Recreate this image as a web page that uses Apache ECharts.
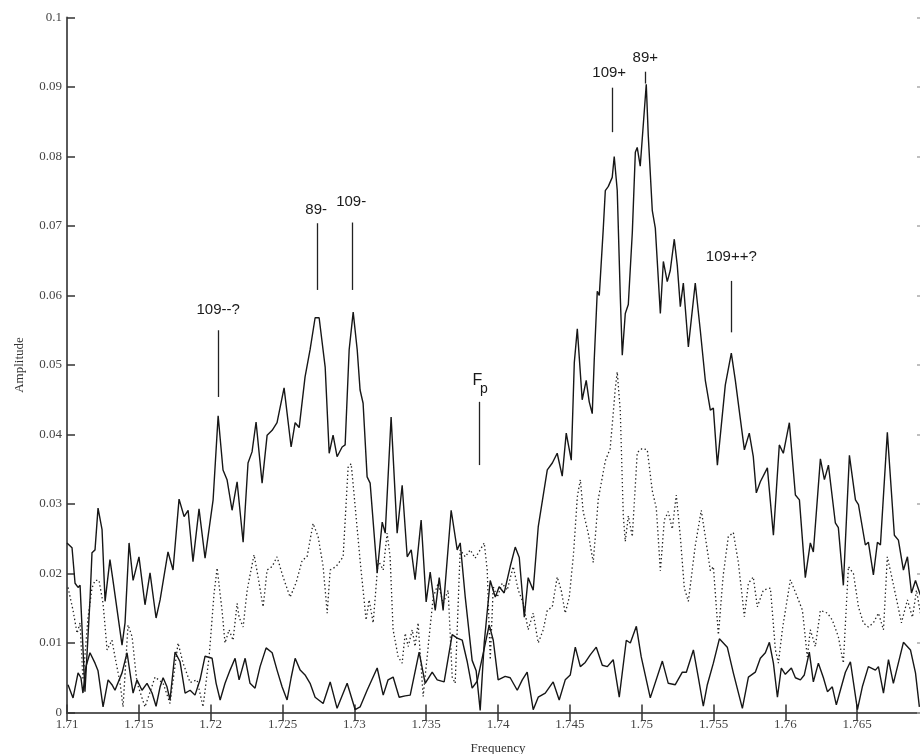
<!DOCTYPE html>
<html>
<head>
<meta charset="utf-8">
<script src="https://cdn.jsdelivr.net/npm/echarts@6/dist/echarts.min.js"></script>
<style>
  html, body { margin: 0; padding: 0; background: #fff; }
  #chart { width: 920px; height: 754px; }
</style>
</head>
<body>
<div id="chart"></div>
<script>
// Amplitude spectrum around the pulsation frequency Fp.
// Main spectrum (solid, upper)
const mainFreq = [
  1.71000, 1.71035, 1.71056, 1.71077, 1.71091, 1.71125, 1.71160, 1.71174, 1.71195, 1.71216,
  1.71244, 1.71265, 1.71299, 1.71320, 1.71383, 1.71404, 1.71432, 1.71460, 1.71501, 1.71543,
  1.71578, 1.71620, 1.71648, 1.71703, 1.71738, 1.71780, 1.71815, 1.71843, 1.71877, 1.71919,
  1.71961, 1.72017, 1.72052, 1.72086, 1.72114, 1.72149, 1.72184, 1.72226, 1.72260, 1.72288,
  1.72316, 1.72358, 1.72393, 1.72428, 1.72462, 1.72511, 1.72560, 1.72588, 1.72616, 1.72657,
  1.72692, 1.72727, 1.72755, 1.72797, 1.72825, 1.72852, 1.72880, 1.72915, 1.72936, 1.72964,
  1.72992, 1.73020, 1.73040, 1.73061, 1.73089, 1.73110, 1.73159, 1.73194, 1.73215, 1.73256,
  1.73298, 1.73333, 1.73368, 1.73396, 1.73423, 1.73465, 1.73500, 1.73528, 1.73563, 1.73591,
  1.73618, 1.73674, 1.73716, 1.73737, 1.73772, 1.73820, 1.73848, 1.73876, 1.73904, 1.73946,
  1.73981, 1.74008, 1.74043, 1.74085, 1.74120, 1.74148, 1.74183, 1.74210, 1.74245, 1.74280,
  1.74343, 1.74378, 1.74412, 1.74447, 1.74475, 1.74510, 1.74531, 1.74552, 1.74586, 1.74614,
  1.74635, 1.74656, 1.74670, 1.74691, 1.74705, 1.74733, 1.74747, 1.74768, 1.74795, 1.74809,
  1.74830, 1.74851, 1.74865, 1.74886, 1.74907, 1.74935, 1.74956, 1.74969, 1.74990, 1.75032,
  1.75046, 1.75074, 1.75095, 1.75130, 1.75151, 1.75178, 1.75199, 1.75227, 1.75248, 1.75269,
  1.75290, 1.75325, 1.75373, 1.75408, 1.75443, 1.75478, 1.75499, 1.75527, 1.75582, 1.75624,
  1.75652, 1.75687, 1.75715, 1.75749, 1.75777, 1.75798, 1.75826, 1.75875, 1.75917, 1.75958,
  1.75986, 1.76028, 1.76070, 1.76098, 1.76139, 1.76174, 1.76195, 1.76244, 1.76272, 1.76300,
  1.76348, 1.76369, 1.76404, 1.76446, 1.76488, 1.76509, 1.76557, 1.76578, 1.76613, 1.76641,
  1.76662, 1.76710, 1.76759, 1.76787, 1.76822, 1.76850, 1.76878, 1.76906, 1.76940
];
const mainAmp = [
  0.0244, 0.0237, 0.0186, 0.0180, 0.0183, 0.0030, 0.0162, 0.0230, 0.0234, 0.0294,
  0.0263, 0.0160, 0.0220, 0.0190, 0.0097, 0.0129, 0.0244, 0.0190, 0.0224, 0.0155,
  0.0201, 0.0136, 0.0162, 0.0231, 0.0205, 0.0307, 0.0282, 0.0291, 0.0217, 0.0293,
  0.0222, 0.0306, 0.0427, 0.0349, 0.0335, 0.0291, 0.0332, 0.0245, 0.0359, 0.0375,
  0.0418, 0.0330, 0.0399, 0.0406, 0.0417, 0.0467, 0.0382, 0.0417, 0.0410, 0.0483,
  0.0522, 0.0568, 0.0568, 0.0497, 0.0373, 0.0399, 0.0368, 0.0382, 0.0385, 0.0522,
  0.0576, 0.0522, 0.0464, 0.0445, 0.0339, 0.0330, 0.0201, 0.0274, 0.0258, 0.0425,
  0.0258, 0.0327, 0.0224, 0.0234, 0.0191, 0.0277, 0.0159, 0.0202, 0.0147, 0.0194,
  0.0147, 0.0291, 0.0234, 0.0244, 0.0166, 0.0075, 0.0060, 0.0003, 0.0100, 0.0190,
  0.0166, 0.0181, 0.0172, 0.0210, 0.0238, 0.0223, 0.0137, 0.0194, 0.0176, 0.0267,
  0.0349, 0.0359, 0.0373, 0.0340, 0.0402, 0.0363, 0.0503, 0.0552, 0.0450, 0.0478,
  0.0447, 0.0430, 0.0508, 0.0606, 0.0600, 0.0697, 0.0751, 0.0757, 0.0770, 0.0800,
  0.0751, 0.0600, 0.0514, 0.0574, 0.0587, 0.0691, 0.0806, 0.0813, 0.0786, 0.0904,
  0.0830, 0.0722, 0.0697, 0.0574, 0.0649, 0.0620, 0.0636, 0.0681, 0.0643, 0.0584,
  0.0618, 0.0526, 0.0618, 0.0550, 0.0478, 0.0435, 0.0438, 0.0356, 0.0471, 0.0517,
  0.0478, 0.0422, 0.0378, 0.0402, 0.0368, 0.0316, 0.0332, 0.0352, 0.0255, 0.0385,
  0.0373, 0.0417, 0.0313, 0.0306, 0.0194, 0.0244, 0.0231, 0.0365, 0.0335, 0.0356,
  0.0273, 0.0266, 0.0183, 0.0370, 0.0306, 0.0299, 0.0241, 0.0245, 0.0198, 0.0245,
  0.0241, 0.0403, 0.0255, 0.0248, 0.0205, 0.0224, 0.0172, 0.0190, 0.0169
];

// Second spectrum (dotted)
const dotFreq = [
  1.71007, 1.71042, 1.71070, 1.71091, 1.71111, 1.71146, 1.71174, 1.71195, 1.71223, 1.71251,
  1.71279, 1.71313, 1.71334, 1.71369, 1.71390, 1.71425, 1.71453, 1.71487, 1.71543, 1.71613,
  1.71669, 1.71717, 1.71773, 1.71808, 1.71857, 1.71905, 1.71947, 1.71989, 1.72024, 1.72045,
  1.72079, 1.72100, 1.72128, 1.72156, 1.72184, 1.72198, 1.72226, 1.72254, 1.72281, 1.72302,
  1.72330, 1.72365, 1.72393, 1.72428, 1.72462, 1.72504, 1.72553, 1.72595, 1.72637, 1.72671,
  1.72713, 1.72748, 1.72783, 1.72811, 1.72832, 1.72873, 1.72922, 1.72957, 1.72978, 1.73006,
  1.73040, 1.73061, 1.73082, 1.73103, 1.73131, 1.73166, 1.73201, 1.73228, 1.73249, 1.73270,
  1.73305, 1.73333, 1.73354, 1.73375, 1.73403, 1.73423, 1.73444, 1.73479, 1.73514, 1.73549,
  1.73584, 1.73618, 1.73653, 1.73681, 1.73702, 1.73737, 1.73772, 1.73807, 1.73841, 1.73876,
  1.73904, 1.73925, 1.73946, 1.73967, 1.73995, 1.74029, 1.74064, 1.74106, 1.74141, 1.74176,
  1.74210, 1.74245, 1.74280, 1.74315, 1.74343, 1.74378, 1.74412, 1.74440, 1.74468, 1.74496,
  1.74524, 1.74552, 1.74573, 1.74593, 1.74628, 1.74663, 1.74698, 1.74747, 1.74781, 1.74816,
  1.74830, 1.74851, 1.74872, 1.74886, 1.74907, 1.74935, 1.74969, 1.75004, 1.75039, 1.75074,
  1.75102, 1.75130, 1.75158, 1.75185, 1.75213, 1.75241, 1.75269, 1.75297, 1.75325, 1.75373,
  1.75415, 1.75443, 1.75478, 1.75499, 1.75534, 1.75568, 1.75603, 1.75638, 1.75673, 1.75715,
  1.75743, 1.75777, 1.75805, 1.75847, 1.75896, 1.75931, 1.75952, 1.75979, 1.76035, 1.76084,
  1.76119, 1.76153, 1.76174, 1.76209, 1.76244, 1.76293, 1.76327, 1.76369, 1.76404, 1.76439,
  1.76474, 1.76509, 1.76543, 1.76578, 1.76613, 1.76648, 1.76683, 1.76710, 1.76745, 1.76780,
  1.76808, 1.76850, 1.76885, 1.76913, 1.76940
];
const dotAmp = [
  0.0180, 0.0147, 0.0114, 0.0129, 0.0047, 0.0136, 0.0179, 0.0190, 0.0190, 0.0157,
  0.0090, 0.0104, 0.0080, 0.0043, 0.0008, 0.0126, 0.0109, 0.0043, 0.0008, 0.0051,
  0.0042, 0.0013, 0.0100, 0.0071, 0.0043, 0.0047, 0.0008, 0.0080, 0.0172, 0.0208,
  0.0147, 0.0100, 0.0119, 0.0104, 0.0157, 0.0137, 0.0123, 0.0176, 0.0205, 0.0227,
  0.0195, 0.0152, 0.0205, 0.0210, 0.0224, 0.0195, 0.0166, 0.0187, 0.0219, 0.0224,
  0.0272, 0.0253, 0.0210, 0.0143, 0.0205, 0.0210, 0.0224, 0.0353, 0.0358, 0.0296,
  0.0219, 0.0176, 0.0133, 0.0162, 0.0129, 0.0219, 0.0205, 0.0258, 0.0224, 0.0119,
  0.0080, 0.0071, 0.0114, 0.0095, 0.0119, 0.0095, 0.0129, 0.0023, 0.0095, 0.0166,
  0.0186, 0.0157, 0.0176, 0.0051, 0.0042, 0.0234, 0.0224, 0.0234, 0.0222, 0.0234,
  0.0244, 0.0205, 0.0076, 0.0181, 0.0166, 0.0186, 0.0176, 0.0210, 0.0176, 0.0157,
  0.0119, 0.0143, 0.0100, 0.0119, 0.0147, 0.0152, 0.0195, 0.0176, 0.0143, 0.0166,
  0.0224, 0.0310, 0.0335, 0.0289, 0.0258, 0.0216, 0.0307, 0.0362, 0.0380, 0.0465,
  0.0490, 0.0435, 0.0283, 0.0246, 0.0283, 0.0253, 0.0374, 0.0380, 0.0378, 0.0319,
  0.0294, 0.0204, 0.0277, 0.0289, 0.0264, 0.0313, 0.0253, 0.0179, 0.0160, 0.0240,
  0.0291, 0.0253, 0.0204, 0.0210, 0.0112, 0.0198, 0.0253, 0.0259, 0.0216, 0.0138,
  0.0186, 0.0195, 0.0152, 0.0176, 0.0179, 0.0090, 0.0071, 0.0119, 0.0191, 0.0166,
  0.0147, 0.0080, 0.0119, 0.0095, 0.0147, 0.0143, 0.0133, 0.0109, 0.0071, 0.0210,
  0.0200, 0.0152, 0.0129, 0.0123, 0.0129, 0.0143, 0.0119, 0.0224, 0.0191, 0.0157,
  0.0129, 0.0162, 0.0137, 0.0176, 0.0143
];

// Noise spectrum (solid, lower)
const noiseFreq = [
  1.71007, 1.71042, 1.71077, 1.71097, 1.71111, 1.71132, 1.71160, 1.71195, 1.71216, 1.71251,
  1.71286, 1.71313, 1.71334, 1.71383, 1.71418, 1.71446, 1.71460, 1.71487, 1.71522, 1.71557,
  1.71592, 1.71620, 1.71648, 1.71669, 1.71696, 1.71717, 1.71752, 1.71787, 1.71822, 1.71857,
  1.71891, 1.71926, 1.71961, 1.72010, 1.72038, 1.72066, 1.72100, 1.72135, 1.72170, 1.72198,
  1.72240, 1.72274, 1.72309, 1.72344, 1.72386, 1.72428, 1.72462, 1.72497, 1.72532, 1.72560,
  1.72588, 1.72623, 1.72657, 1.72692, 1.72727, 1.72783, 1.72832, 1.72880, 1.72950, 1.73006,
  1.73040, 1.73089, 1.73159, 1.73201, 1.73235, 1.73270, 1.73312, 1.73354, 1.73389, 1.73451,
  1.73493, 1.73542, 1.73577, 1.73625, 1.73681, 1.73716, 1.73751, 1.73786, 1.73820, 1.73855,
  1.73897, 1.73939, 1.73967, 1.74001, 1.74050, 1.74085, 1.74134, 1.74169, 1.74203, 1.74245,
  1.74280, 1.74329, 1.74384, 1.74426, 1.74468, 1.74503, 1.74538, 1.74573, 1.74607, 1.74642,
  1.74684, 1.74726, 1.74761, 1.74802, 1.74844, 1.74893, 1.74921, 1.74963, 1.74997, 1.75060,
  1.75144, 1.75185, 1.75234, 1.75283, 1.75311, 1.75360, 1.75394, 1.75429, 1.75457, 1.75499,
  1.75541, 1.75596, 1.75638, 1.75701, 1.75743, 1.75791, 1.75826, 1.75861, 1.75889, 1.75917,
  1.75945, 1.75972, 1.76000, 1.76042, 1.76070, 1.76105, 1.76132, 1.76167, 1.76195, 1.76230,
  1.76265, 1.76293, 1.76327, 1.76355, 1.76383, 1.76418, 1.76453, 1.76502, 1.76536, 1.76578,
  1.76627, 1.76648, 1.76683, 1.76718, 1.76752, 1.76822, 1.76871, 1.76906, 1.76933
];
const noiseAmp = [
  0.0040, 0.0021, 0.0057, 0.0050, 0.0028, 0.0066, 0.0086, 0.0071, 0.0060, 0.0008,
  0.0047, 0.0040, 0.0032, 0.0057, 0.0086, 0.0047, 0.0028, 0.0047, 0.0032, 0.0042,
  0.0028, 0.0009, 0.0037, 0.0050, 0.0037, 0.0018, 0.0087, 0.0073, 0.0028, 0.0032,
  0.0025, 0.0047, 0.0081, 0.0078, 0.0042, 0.0018, 0.0042, 0.0061, 0.0078, 0.0047,
  0.0078, 0.0042, 0.0035, 0.0066, 0.0093, 0.0086, 0.0061, 0.0037, 0.0018, 0.0050,
  0.0078, 0.0061, 0.0054, 0.0042, 0.0022, 0.0013, 0.0044, 0.0006, 0.0042, 0.0004,
  0.0008, 0.0032, 0.0064, 0.0025, 0.0047, 0.0051, 0.0022, 0.0024, 0.0025, 0.0087,
  0.0042, 0.0058, 0.0047, 0.0044, 0.0112, 0.0107, 0.0104, 0.0073, 0.0035, 0.0045,
  0.0085, 0.0126, 0.0104, 0.0047, 0.0052, 0.0050, 0.0032, 0.0047, 0.0058, 0.0004,
  0.0022, 0.0028, 0.0044, 0.0018, 0.0047, 0.0054, 0.0094, 0.0066, 0.0072, 0.0083,
  0.0094, 0.0068, 0.0066, 0.0076, 0.0022, 0.0104, 0.0100, 0.0124, 0.0080, 0.0021,
  0.0074, 0.0042, 0.0040, 0.0058, 0.0058, 0.0090, 0.0051, 0.0009, 0.0040, 0.0071,
  0.0106, 0.0094, 0.0057, 0.0006, 0.0051, 0.0058, 0.0078, 0.0086, 0.0101, 0.0071,
  0.0022, 0.0064, 0.0055, 0.0064, 0.0050, 0.0047, 0.0054, 0.0087, 0.0044, 0.0071,
  0.0050, 0.0030, 0.0037, 0.0011, 0.0032, 0.0058, 0.0073, 0.0004, 0.0037, 0.0066,
  0.0061, 0.0066, 0.0028, 0.0076, 0.0042, 0.0101, 0.0090, 0.0057, 0.0008
];

// Peak identifications: label, frequency, marker line top/bottom, label height
const annLabels  = ['109--?', '89-', '109-', '109+', '89+', '109++?'];
const annFreq    = [1.72052, 1.72741, 1.72985, 1.74795, 1.75025, 1.75624];
const annLineTop = [0.0550, 0.0704, 0.0705, 0.0899, 0.0922, 0.0621];
const annLineBot = [0.0454, 0.0608, 0.0608, 0.0835, 0.0905, 0.0547];
const annTextAmp = [0.0579, 0.0723, 0.0735, 0.0920, 0.0942, 0.0655];
const annTextOff = [0, -1, -1, -3, 0, 0];

// Pulsation frequency marker
const fpFreq = 1.73869;
const fpLine = [0.0447, 0.0356];
const fpTextAmp = [0.0478, 0.0465];

// Axis ticks
const xTicks = { min: 1.71, max: 1.77, step: 0.005 };
const yTicks = { min: 0, max: 0.1, step: 0.01 };

const zip = (a, b) => a.map((v, i) => [v, b[i]]);
const serif = 'Liberation Serif, DejaVu Serif, serif';
const sans = 'Liberation Sans, Arial, sans-serif';
const axisGrey = '#5a5a5a';
const ink = '#161616';

const markLines = annFreq.map((f, i) => [
  { coord: [f, annLineTop[i]] }, { coord: [f, annLineBot[i]] }
]);
markLines.push([{ coord: [fpFreq, fpLine[0]] }, { coord: [fpFreq, fpLine[1]] }]);

const markPoints = annLabels.map((t, i) => ({
  name: t,
  coord: [annFreq[i] + annTextOff[i] * 0.0000696, annTextAmp[i]],
  label: { fontSize: 15 }
}));
markPoints.push({ name: 'F', coord: [fpFreq - 0.00012, fpTextAmp[0]], label: { fontSize: 16 } });
markPoints.push({ name: 'p', coord: [fpFreq + 0.00032, fpTextAmp[1]], label: { fontSize: 14 } });

const chart = echarts.init(document.getElementById('chart'), null, { renderer: 'canvas' });

const fmt = v => String(+v.toFixed(4));

chart.setOption({
  animation: false,
  backgroundColor: '#ffffff',
  grid: {
    left: 67, top: 17.5, width: 862, height: 695,
    containLabel: false, outerBoundsMode: 'none'
  },
  xAxis: [
    {
      type: 'value', position: 'bottom',
      min: xTicks.min, max: xTicks.max, interval: xTicks.step,
      name: 'Frequency', nameLocation: 'middle', nameGap: 30,
      nameTextStyle: { fontFamily: serif, fontSize: 13, color: '#333' },
      axisLine: { show: true, lineStyle: { color: axisGrey, width: 2 } },
      axisTick: { show: true, inside: true, length: 8, lineStyle: { color: '#333', width: 1.5 } },
      axisLabel: {
        fontFamily: serif, fontSize: 13, color: '#444', margin: 6,
        formatter: fmt, showMaxLabel: false
      },
      splitLine: { show: false }
    },
    {
      type: 'value', position: 'top',
      min: xTicks.min, max: xTicks.max, interval: xTicks.step,
      axisLine: { show: true, lineStyle: { color: axisGrey, width: 2 } },
      axisTick: { show: true, inside: true, length: 8, lineStyle: { color: '#333', width: 1.5 } },
      axisLabel: { show: false },
      splitLine: { show: false }
    }
  ],
  yAxis: [
    {
      type: 'value', position: 'left',
      min: yTicks.min, max: yTicks.max, interval: yTicks.step,
      name: 'Amplitude', nameLocation: 'middle', nameGap: 41,
      nameTextStyle: { fontFamily: serif, fontSize: 13, color: '#333' },
      axisLine: { show: true, lineStyle: { color: axisGrey, width: 2 } },
      axisTick: { show: true, inside: true, length: 8, lineStyle: { color: '#333', width: 1.5 } },
      axisLabel: { fontFamily: serif, fontSize: 13, color: '#444', margin: 5, formatter: fmt },
      splitLine: { show: false }
    },
    {
      type: 'value', position: 'right',
      min: yTicks.min, max: yTicks.max, interval: yTicks.step,
      axisLine: { show: true, lineStyle: { color: axisGrey, width: 2 } },
      axisTick: { show: true, inside: true, length: 12, lineStyle: { color: '#aaa', width: 1.5 } },
      axisLabel: { show: false },
      splitLine: { show: false }
    }
  ],
  series: [
    {
      name: 'noise', type: 'line', data: zip(noiseFreq, noiseAmp),
      showSymbol: false, symbol: 'none', clip: true,
      lineStyle: { color: ink, width: 1.4 }
    },
    {
      name: 'secondary', type: 'line', data: zip(dotFreq, dotAmp),
      showSymbol: false, symbol: 'none', clip: true,
      lineStyle: { color: '#222', width: 1.3, type: [1.4, 2.6] }
    },
    {
      name: 'spectrum', type: 'line', data: zip(mainFreq, mainAmp),
      showSymbol: false, symbol: 'none', clip: true,
      lineStyle: { color: ink, width: 1.4 },
      markLine: {
        silent: true, symbol: ['none', 'none'],
        label: { show: false },
        lineStyle: { color: '#222', width: 1.3, type: 'solid' },
        data: markLines
      },
      markPoint: {
        silent: true, symbol: 'rect', symbolSize: 1,
        itemStyle: { color: 'rgba(0,0,0,0)' },
        label: {
          show: true, position: 'inside', color: '#1a1a1a',
          fontFamily: sans, formatter: p => p.name
        },
        data: markPoints
      }
    }
  ]
});
</script>
</body>
</html>
